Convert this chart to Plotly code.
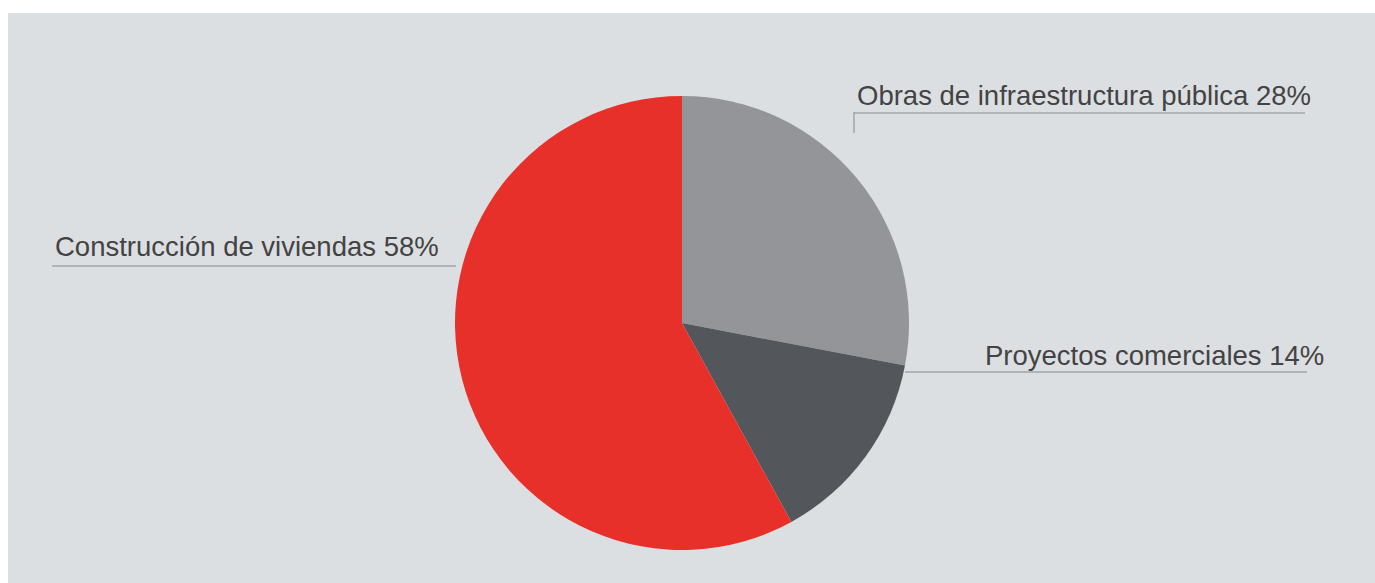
import plotly.graph_objects as go

W, H = 1375, 583

sectors = ["Obras de infraestructura pública", "Proyectos comerciales", "Construcción de viviendas"]
shares = [28, 14, 58]
colors = ["#939598", "#53575b", "#e8302a"]


def px(x):
    return x / W


def py(y):
    return 1 - y / H


cx, cy, r = 682, 323, 227

fig = go.Figure(
    go.Pie(
        labels=sectors,
        values=shares,
        sort=False,
        direction="clockwise",
        rotation=0,
        marker=dict(colors=colors, line=dict(width=0)),
        textinfo="none",
        hoverinfo="label+percent",
        showlegend=False,
        domain=dict(x=[px(cx - r), px(cx + r)], y=[py(cy + r), py(cy - r)]),
    )
)

line_col = "#a3a5a8"
label_font = dict(family="Liberation Sans, Arial, sans-serif", size=27.5, color="#434343")

# label placement: (text x, text y, leader line x0, x1, y, optional tick bottom)
placement = [
    (855, 96, 853, 1305, 113, 133),
    (983, 355, 905, 1307, 372, None),
    (53, 246, 52, 456, 266, None),
]

shapes = [
    dict(type="rect", xref="paper", yref="paper", x0=px(8), x1=1, y0=0, y1=py(13),
         fillcolor="#dcdfe2", line=dict(width=0), layer="below"),
]
annotations = []
for name, val, (tx, ty, lx0, lx1, ly, tick) in zip(sectors, shares, placement):
    annotations.append(dict(
        text=f"{name} {val}%", x=px(tx), y=py(ty), xref="paper", yref="paper",
        xanchor="left", yanchor="middle", showarrow=False, font=label_font,
    ))
    shapes.append(dict(type="line", xref="paper", yref="paper",
                       x0=px(lx0), x1=px(lx1), y0=py(ly), y1=py(ly),
                       line=dict(color=line_col, width=1.5)))
    if tick is not None:
        shapes.append(dict(type="line", xref="paper", yref="paper",
                           x0=px(lx0 + 1), x1=px(lx0 + 1), y0=py(ly), y1=py(tick),
                           line=dict(color=line_col, width=1.5)))

fig.update_layout(
    width=W, height=H,
    margin=dict(l=0, r=0, t=0, b=0),
    paper_bgcolor="white",
    plot_bgcolor="white",
    shapes=shapes,
    annotations=annotations,
)

fig.write_html("out.html")
